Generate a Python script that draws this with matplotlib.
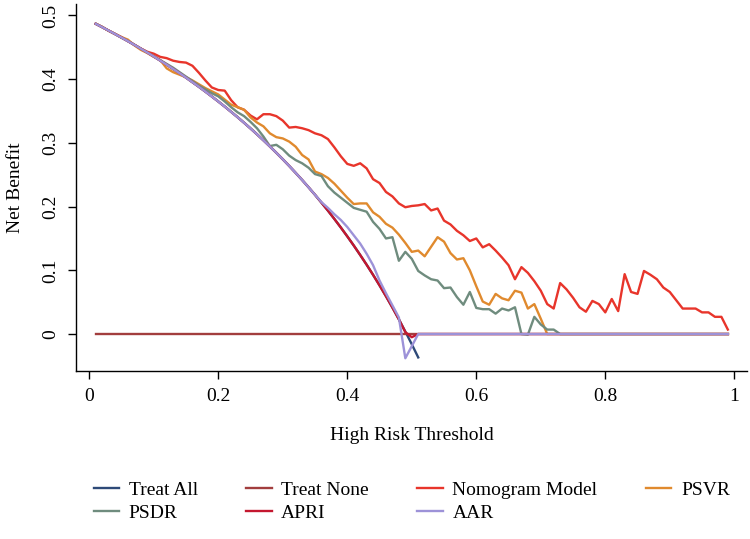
import numpy as np
import matplotlib
matplotlib.use("Agg")
import matplotlib.pyplot as plt

plt.rcParams['font.family'] = ['Liberation Serif', 'DejaVu Serif']

# ---- data -------------------------------------------------------------
thresholds = np.round(np.arange(1, 100) / 100, 2)

treat_all = [0.4869, 0.4816, 0.4763, 0.4708, 0.4653, 0.4596, 0.4538, 0.4478, 0.4418, 0.4356,
             0.4292, 0.4227, 0.4161, 0.4093, 0.4024, 0.3952, 0.3880, 0.3805, 0.3728, 0.3650,
             0.3570, 0.3487, 0.3403, 0.3316, 0.3227, 0.3135, 0.3041, 0.2944, 0.2845, 0.2743,
             0.2638, 0.2529, 0.2418, 0.2303, 0.2185, 0.2062, 0.1937, 0.1806, 0.1672, 0.1533,
             0.1390, 0.1241, 0.1088, 0.0929, 0.0764, 0.0593, 0.0415, 0.0231, 0.0039, -0.0160,
             -0.0367]

treat_none = [0.0] * 99

nomogram = [0.487, 0.482, 0.476, 0.471, 0.466, 0.460, 0.454, 0.448, 0.443, 0.440,
            0.435, 0.433, 0.429, 0.427, 0.426, 0.421, 0.410, 0.398, 0.387, 0.383,
            0.382, 0.367, 0.356, 0.352, 0.343, 0.337, 0.345, 0.345, 0.342, 0.335,
            0.324, 0.325, 0.323, 0.320, 0.315, 0.312, 0.306, 0.293, 0.279, 0.267,
            0.264, 0.268, 0.260, 0.243, 0.237, 0.223, 0.216, 0.205, 0.199, 0.201,
            0.202, 0.204, 0.194, 0.197, 0.178, 0.172, 0.162, 0.155, 0.146, 0.150,
            0.136, 0.141, 0.131, 0.120, 0.108, 0.086, 0.105, 0.096, 0.083, 0.068,
            0.047, 0.040, 0.080, 0.070, 0.057, 0.042, 0.035, 0.052, 0.047, 0.034,
            0.055, 0.036, 0.094, 0.066, 0.063, 0.099, 0.093, 0.086, 0.073, 0.066,
            0.053, 0.040, 0.040, 0.040, 0.034, 0.034, 0.027, 0.027, 0.007]

psvr = [0.487, 0.482, 0.476, 0.471, 0.466, 0.462, 0.453, 0.446, 0.441, 0.435,
        0.430, 0.417, 0.411, 0.407, 0.403, 0.398, 0.392, 0.386, 0.381, 0.376,
        0.368, 0.360, 0.356, 0.352, 0.340, 0.332, 0.326, 0.315, 0.309, 0.307,
        0.302, 0.294, 0.281, 0.274, 0.255, 0.251, 0.245, 0.236, 0.225, 0.214,
        0.204, 0.205, 0.205, 0.191, 0.184, 0.173, 0.167, 0.156, 0.143, 0.129,
        0.131, 0.122, 0.137, 0.152, 0.145, 0.127, 0.117, 0.119, 0.100, 0.075,
        0.051, 0.046, 0.063, 0.056, 0.053, 0.068, 0.065, 0.040, 0.047, 0.024,
        0.000] + [0.0] * 28

psdr = [0.487, 0.482, 0.476, 0.471, 0.465, 0.460, 0.454, 0.448, 0.442, 0.436,
        0.430, 0.424, 0.418, 0.411, 0.404, 0.397, 0.390, 0.384, 0.378, 0.373,
        0.365, 0.356, 0.348, 0.342, 0.333, 0.323, 0.310, 0.295, 0.297, 0.290,
        0.280, 0.273, 0.268, 0.261, 0.251, 0.248, 0.232, 0.222, 0.214, 0.206,
        0.198, 0.195, 0.192, 0.176, 0.165, 0.150, 0.152, 0.115, 0.129, 0.118,
        0.099, 0.092, 0.086, 0.084, 0.072, 0.073, 0.058, 0.046, 0.066, 0.041,
        0.039, 0.039, 0.032, 0.040, 0.037, 0.042, 0.000, -0.001, 0.027, 0.015,
        0.007, 0.007, 0.000] + [0.0] * 26

apri = treat_all[:48] + [0.003, -0.005, 0.0] + [0.0] * 48

aar = treat_all[:35] + [0.207, 0.198, 0.188, 0.179, 0.168, 0.155, 0.142, 0.126, 0.108,
                        0.084, 0.064, 0.045, 0.026, -0.038, -0.019, 0.0] + [0.0] * 48

xtick_vals = [0, 0.2, 0.4, 0.6, 0.8, 1.0]
xtick_labels = ["0", "0.2", "0.4", "0.6", "0.8", "1"]
ytick_vals = [0, 0.1, 0.2, 0.3, 0.4, 0.5]
ytick_labels = ["0", "0.1", "0.2", "0.3", "0.4", "0.5"]

series = [
    ("Treat All", treat_all, "#2e4a78"),
    ("Treat None", treat_none, "#a23e3e"),
    ("Nomogram Model", nomogram, "#e8352b"),
    ("PSVR", psvr, "#e08a2e"),
    ("PSDR", psdr, "#6f8c7e"),
    ("APRI", apri, "#c4172f"),
    ("AAR", aar, "#9d92d8"),
]

# ---- plot ---------------------------------------------------------------
fig = plt.figure(figsize=(7.5, 5.39), dpi=100)
ax = fig.add_axes([0.1013, 0.3117, 0.8947, 0.6809])

handles = {}
for name, vals, col in series:
    n = len(vals)
    ln, = ax.plot(thresholds[:n], vals, color=col, lw=1.7, label=name)
    handles[name] = ln

ax.set_xlim(-0.0206, 1.0197)
ax.set_ylim(-0.058, 0.518)
ax.set_xticks(xtick_vals)
ax.set_xticklabels(xtick_labels)
ax.set_yticks(ytick_vals)
ax.set_yticklabels(ytick_labels)
for lbl in ax.get_yticklabels():
    lbl.set_rotation(90)
    lbl.set_va('center')
    lbl.set_ha('right')

for s in ['top', 'right']:
    ax.spines[s].set_visible(False)
for s in ['left', 'bottom']:
    ax.spines[s].set_linewidth(1.0)
ax.tick_params(axis='both', length=6, width=1.0, labelsize=14, pad=6)

ax.set_xlabel("High Risk Threshold", fontsize=14, labelpad=16)
ax.set_ylabel("Net Benefit", fontsize=14, labelpad=13)

order = ["Treat All", "PSDR", "Treat None", "APRI", "Nomogram Model", "AAR", "PSVR"]
fig.legend([handles[o] for o in order], order, loc='center',
           bbox_to_anchor=(0.549, 0.0696), ncol=4, frameon=False, fontsize=14,
           handlelength=1.3, handletextpad=0.5, columnspacing=2.5, labelspacing=0.3)

fig.savefig("out.png", dpi=100)
